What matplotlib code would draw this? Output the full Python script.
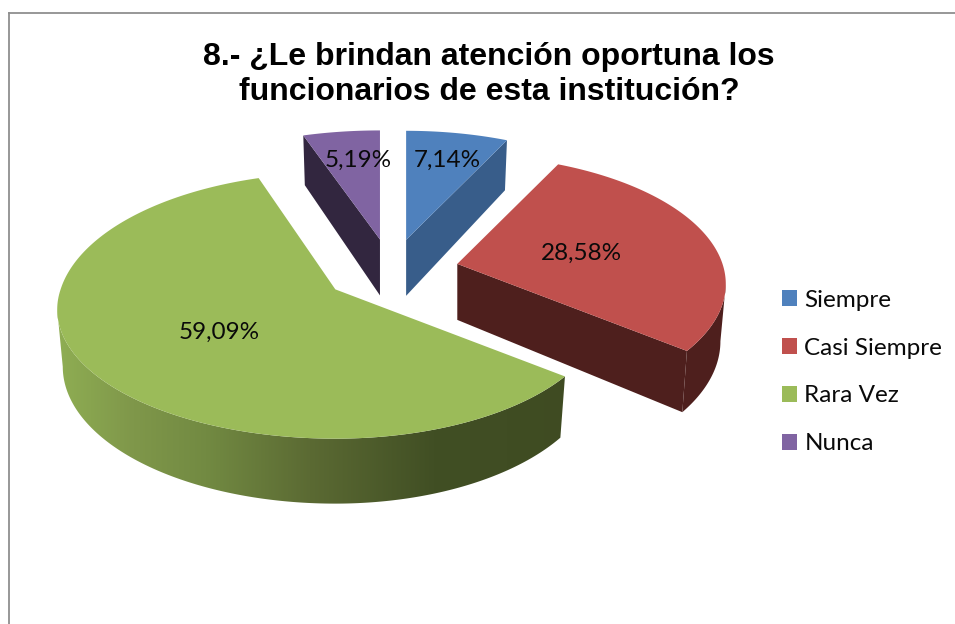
import numpy as np
import matplotlib
matplotlib.use("Agg")
from matplotlib import pyplot as plt
from matplotlib.colors import LinearSegmentedColormap
from matplotlib.patches import Patch, Polygon

title = "8.- ¿Le brindan atención oportuna los\nfuncionarios de esta institución?"
categories = ["Siempre", "Casi Siempre", "Rara Vez", "Nunca"]
values = [7.14, 28.58, 59.09, 5.19]

top_colors = ["#4F81BD", "#C0504D", "#9BBB59", "#8064A2"]
side_colors = ["#385D8A", "#4E1F1D", "#414F24", "#32263F"]
green_wall = [(0, "#8FAE53"), (0.147, "#7F974A"), (0.286, "#728A42"),
              (0.484, "#5B6A33"), (0.72, "#414F24"), (1, "#3F4B22")]

# where the percent labels sit, in pixels (same order as categories)
label_pos = [(447, 160), (581, 253), (219.5, 332), (358.5, 160)]

# pie geometry, in pixels
CX, CY = 391, 271
EX, EY = 68, 32
R, RY = 272, 126
P = 0.156
H = 56
LOW_X, LOW_Y = 0.98, 1.06


def project(ax0, ay0, theta, sx=1.0, sy=1.0, back=1.0):
    """Angle (clockwise from 12 o'clock) to a point on the tilted rim."""
    u, v = np.sin(theta), -np.cos(theta)
    f = 1 / (1 - P * v)
    side = np.where(u > 0, 0.975, 1.01)
    stretch = np.where(v < 0, back, 1.0)
    return ax0 + R * u * f * side * sx, ay0 + RY * v * f * sy * stretch


def rim(ax0, ay0, t0, t1, sx=1.0, sy=1.0, back=1.0):
    t = np.linspace(t0, t1, 200)
    x, y = project(ax0, ay0, t, sx, sy, back)
    return np.column_stack([x, y])


def main():
    fig = plt.figure(figsize=(9.55, 6.24), dpi=100)
    ax = fig.add_axes([0, 0, 1, 1])

    edges = np.concatenate([[0], np.cumsum(values)]) / np.sum(values) * 2 * np.pi
    slices = []
    for i in range(len(values)):
        mid = (edges[i] + edges[i + 1]) / 2
        slices.append((edges[i], edges[i + 1], CX + EX * np.sin(mid), CY - EY * np.cos(mid)))

    # widest points of the rim, where the outer walls stop showing
    right_t = np.arccos(-P)
    left_t = 2 * np.pi - right_t

    # Frame runs off the right and bottom of the picture
    ax.plot([9, 9], [640, 13], color="#8F8F8F", lw=1.3)
    ax.plot([9, 970], [13, 13], color="#8F8F8F", lw=1.3)

    # Nunca and Siempre: radial wall then top
    for i, t_edge in [(3, slices[3][0]), (0, slices[0][1])]:
        t0, t1, ax0, ay0 = slices[i]
        top_pt = project(ax0, ay0, t_edge)
        low_pt = project(ax0, ay0 + H, t_edge, LOW_X, LOW_Y)
        ax.add_patch(Polygon([(ax0, ay0), top_pt, low_pt, (ax0, ay0 + H)], fc=side_colors[i], ec="none"))
        ax.add_patch(Polygon(np.vstack([[(ax0, ay0)], rim(ax0, ay0, t0, t1)]), fc=top_colors[i], ec="none"))

    # Casi Siempre: radial wall, outer wall, top
    t0, t1, ax0, ay0 = slices[1]
    low_pt = project(ax0, ay0 + H, t1, LOW_X, LOW_Y)
    ax.add_patch(Polygon([(ax0, ay0), project(ax0, ay0, t1), low_pt, (ax0, ay0 + H)], fc=side_colors[1], ec="none"))
    wall = np.vstack([rim(ax0, ay0, right_t, t1), rim(ax0, ay0 + H, t1, right_t, LOW_X, LOW_Y)])
    ax.add_patch(Polygon(wall, fc=side_colors[1], ec="none"))
    ax.add_patch(Polygon(np.vstack([[(ax0, ay0)], rim(ax0, ay0, t0, t1)]), fc=top_colors[1], ec="none"))

    # Rara Vez: shaded outer wall, top
    t0, t1, ax0, ay0 = slices[2]
    wall = np.vstack([rim(ax0, ay0, t0, left_t), rim(ax0, ay0 + H, left_t, t0, LOW_X, LOW_Y)])
    patch = Polygon(wall, fc="none", ec="none")
    ax.add_patch(patch)
    cmap = LinearSegmentedColormap.from_list("wall", green_wall)
    grad = np.linspace(0, 1, 256).reshape(1, -1)
    im = ax.imshow(grad, cmap=cmap, extent=[56, 580, 520, 280], aspect="auto", zorder=1)
    im.set_clip_path(patch)
    top = np.vstack([[(ax0, ay0)], rim(ax0, ay0, t0, t1, back=1.07)])
    ax.add_patch(Polygon(top, fc=top_colors[2], ec="none", zorder=2))

    for val, (x, y) in zip(values, label_pos):
        txt = f"{val:.2f}%".replace(".", ",")
        ax.text(x, y, txt, ha="center", va="center", fontsize=17.5, family="Lato", color="#0A0A0A", zorder=5)

    ax.text(489, 74.5, title, ha="center", va="center", fontsize=23, family="Liberation Sans",
            fontweight="bold", linespacing=1.22, color="black", zorder=5)

    handles = [Patch(fc=c, ec="none") for c in top_colors]
    ax.legend(handles, categories, loc="center left", bbox_to_anchor=(782, 372),
              bbox_transform=ax.transData, frameon=False, borderpad=0, borderaxespad=0,
              prop={"family": "Lato", "size": 17.5}, handlelength=0.62, handleheight=0.62,
              handletextpad=0.3, labelspacing=1.11, labelcolor="#0A0A0A")

    ax.set_xlim(0, 955)
    ax.set_ylim(624, 0)
    ax.axis("off")
    fig.savefig("out.png", dpi=100, facecolor="white")


if __name__ == '__main__':
    main()
